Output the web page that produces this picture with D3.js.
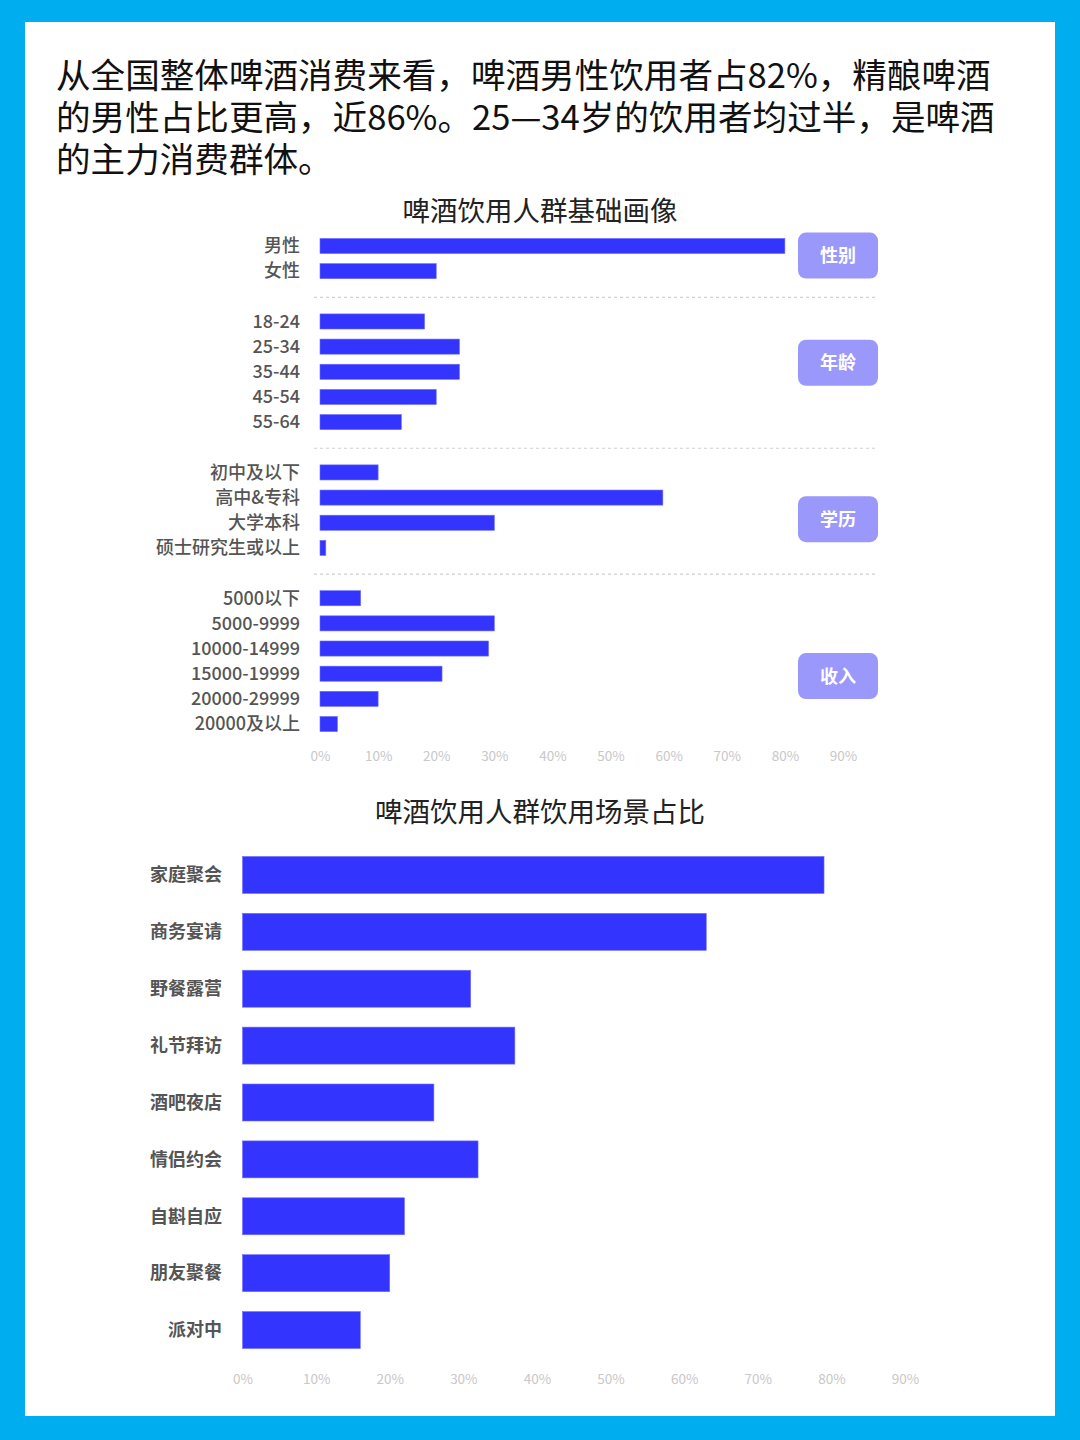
<!DOCTYPE html>
<html><head><meta charset="utf-8">
<script src="https://cdn.jsdelivr.net/npm/d3@7"></script>
<style>
html,body{margin:0;padding:0;background:#00AEEF;}
svg{display:block;}
</style></head>
<body>
<svg id="c" width="1080" height="1440"></svg>
<script>
// ---------- DATA ----------
const headerLines = [
  "从全国整体啤酒消费来看，啤酒男性饮用者占82%，精酿啤酒",
  "的男性占比更高，近86%。25—34岁的饮用者均过半，是啤酒",
  "的主力消费群体。"
];
const title1 = "啤酒饮用人群基础画像";
const title2 = "啤酒饮用人群饮用场景占比";

const groupNames = ["性别", "年龄", "学历", "收入"];
const genderCats = ["男性", "女性"];
const genderVals = [80, 20];
const ageCats = ["18-24", "25-34", "35-44", "45-54", "55-64"];
const ageVals = [18, 24, 24, 20, 14];
const eduCats = ["初中及以下", "高中&专科", "大学本科", "硕士研究生或以上"];
const eduVals = [10, 59, 30, 1];
const incomeCats = ["5000以下", "5000-9999", "10000-14999", "15000-19999", "20000-29999", "20000及以上"];
const incomeVals = [7, 30, 29, 21, 10, 3];

const sceneCats = ["家庭聚会", "商务宴请", "野餐露营", "礼节拜访", "酒吧夜店", "情侣约会", "自斟自应", "朋友聚餐", "派对中"];
const sceneVals = [79, 63, 31, 37, 26, 32, 22, 20, 16];

const xTicks = [0, 10, 20, 30, 40, 50, 60, 70, 80, 90];

// ---------- DRAW ----------
const svg = d3.select("#c");
const BAR = "#3434FF";
const LABEL = "#555";
const TICK = "#c8c8c8";
const FONT = "'Noto Sans CJK SC','Noto Sans',sans-serif";

// white panel
svg.append("rect").attr("x", 25).attr("y", 22).attr("width", 1030).attr("height", 1394).attr("fill", "#fff");

// header
svg.append("g").selectAll("text").data(headerLines).join("text")
  .attr("x", 56).attr("y", (d, i) => 88 + i * 42)
  .attr("font-family", FONT).attr("font-size", 34.6).attr("fill", "#111")
  .text(d => d);

// ---- chart 1 ----
const groups = [
  {name: groupNames[0], cats: genderCats, vals: genderVals},
  {name: groupNames[1], cats: ageCats, vals: ageVals},
  {name: groupNames[2], cats: eduCats, vals: eduVals},
  {name: groupNames[3], cats: incomeCats, vals: incomeVals}
];
const rows = [];
const slots = [];
groups.forEach((g, gi) => {
  if (gi > 0) slots.push("__gap" + gi);
  g.cats.forEach((c, i) => { rows.push({cat: c, val: g.vals[i], group: gi}); slots.push(c); });
});

const x1 = d3.scaleLinear().domain([0, 90]).range([320, 843]);
const y1 = d3.scaleBand().domain(slots).range([233.4, 736.6]).paddingInner(0.4).paddingOuter(0.2);

svg.append("text").attr("x", 540).attr("y", 221).attr("text-anchor", "middle")
  .attr("font-family", FONT).attr("font-size", 27.5).attr("fill", "#222").text(title1);

const g1 = svg.append("g");
g1.selectAll("rect.bar").data(rows).join("rect").attr("class", "bar")
  .attr("x", x1(0)).attr("y", d => y1(d.cat))
  .attr("width", d => x1(d.val) - x1(0)).attr("height", y1.bandwidth())
  .attr("fill", BAR).attr("stroke", "#6e6eff").attr("stroke-width", 0.6);

g1.selectAll("text.lab").data(rows).join("text").attr("class", "lab")
  .attr("x", 300).attr("y", d => y1(d.cat) + y1.bandwidth() / 2)
  .attr("dy", "0.35em").attr("text-anchor", "end")
  .attr("font-family", FONT).attr("font-size", 18).attr("font-weight", 500).attr("fill", LABEL)
  .text(d => d.cat);

// dashed separators
const gaps = slots.filter(s => s.startsWith("__gap"));
g1.selectAll("line.sep").data(gaps).join("line").attr("class", "sep")
  .attr("x1", 314).attr("x2", 878)
  .attr("y1", d => y1(d) + y1.bandwidth() / 2 + 1).attr("y2", d => y1(d) + y1.bandwidth() / 2 + 1)
  .attr("stroke", "#d0d0d0").attr("stroke-width", 1.2).attr("stroke-dasharray", "3,3");

// badges
const badgeOffsets = [-3, -9, 9, 15];
const badgeData = groups.map((g, gi) => {
  const top = y1(g.cats[0]);
  const bot = y1(g.cats[g.cats.length - 1]) + y1.bandwidth();
  return {name: g.name, cy: (top + bot) / 2 + badgeOffsets[gi]};
});
const bg = g1.selectAll("g.badge").data(badgeData).join("g").attr("class", "badge");
bg.append("rect").attr("x", 798).attr("y", d => d.cy - 23).attr("width", 80).attr("height", 46)
  .attr("rx", 8).attr("fill", "#9a98fb");
bg.append("text").attr("x", 838).attr("y", d => d.cy).attr("dy", "0.36em").attr("text-anchor", "middle")
  .attr("font-family", FONT).attr("font-size", 18).attr("font-weight", 700).attr("fill", "#fff")
  .text(d => d.name);

// axis 1
const ax1 = d3.axisBottom(x1).tickValues(xTicks).tickFormat(d => d + "%").tickSize(0).tickPadding(0);
const a1 = svg.append("g").attr("transform", "translate(0,751)").call(ax1);
a1.select(".domain").remove();
a1.selectAll("text").attr("font-family", FONT).attr("font-size", 13.5).attr("fill", TICK).attr("dy", "0.71em");

// ---- chart 2 ----
svg.append("text").attr("x", 540).attr("y", 822).attr("text-anchor", "middle")
  .attr("font-family", FONT).attr("font-size", 27.5).attr("fill", "#222").text(title2);

const x2 = d3.scaleLinear().domain([0, 90]).range([242.5, 905]);
const y2 = d3.scaleBand().domain(sceneCats).range([846.5, 1358.5]).paddingInner(0.35).paddingOuter(0.175);
const scene = sceneCats.map((c, i) => ({cat: c, val: sceneVals[i]}));

const g2 = svg.append("g");
g2.selectAll("rect").data(scene).join("rect")
  .attr("x", x2(0)).attr("y", d => y2(d.cat))
  .attr("width", d => x2(d.val) - x2(0)).attr("height", y2.bandwidth())
  .attr("fill", BAR).attr("stroke", "#6e6eff").attr("stroke-width", 0.6);
g2.selectAll("text").data(scene).join("text")
  .attr("x", 222).attr("y", d => y2(d.cat) + y2.bandwidth() / 2)
  .attr("dy", "0.35em").attr("text-anchor", "end")
  .attr("font-family", FONT).attr("font-size", 18).attr("font-weight", 700).attr("fill", LABEL)
  .text(d => d.cat);

const ax2 = d3.axisBottom(x2).tickValues(xTicks).tickFormat(d => d + "%").tickSize(0).tickPadding(0);
const a2 = svg.append("g").attr("transform", "translate(0,1374)").call(ax2);
a2.select(".domain").remove();
a2.selectAll("text").attr("font-family", FONT).attr("font-size", 13.5).attr("fill", TICK).attr("dy", "0.71em");
</script>
</body></html>
